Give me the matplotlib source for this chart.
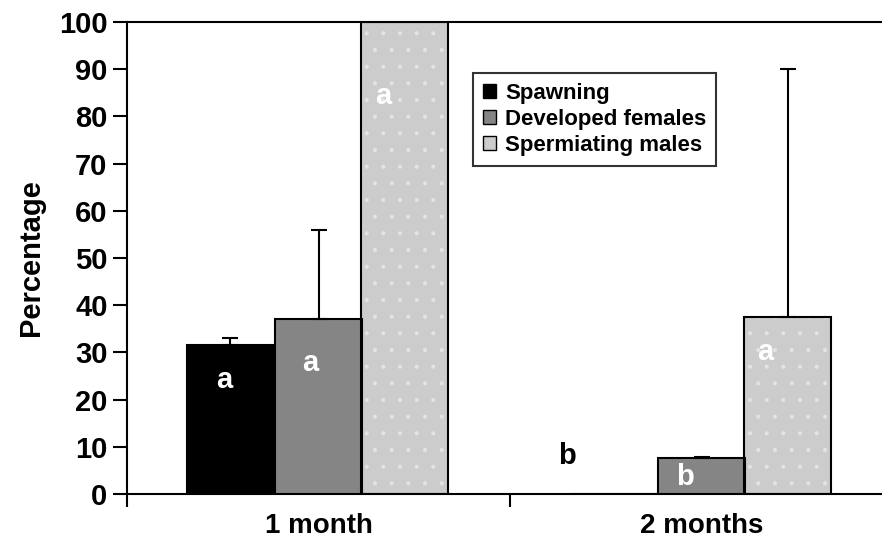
import numpy as np
import matplotlib.pyplot as plt
from matplotlib.patches import Patch

plt.rcParams['font.family'] = ['Liberation Sans', 'DejaVu Sans']
plt.rcParams['font.weight'] = 'bold'
plt.rcParams['hatch.linewidth'] = 0.5

# Data
periods = ["1 month", "2 months"]
series = ["Spawning", "Developed females", "Spermiating males"]
values = {
    "Spawning": [31.6, 0.0],
    "Developed females": [37.0, 7.6],
    "Spermiating males": [100.0, 37.4],
}
errors_up = {
    "Spawning": [1.4, 0.0],
    "Developed females": [19.0, 0.3],
    "Spermiating males": [0.0, 52.6],
}
letters = {
    "Spawning": ["a", "b"],
    "Developed females": ["a", "b"],
    "Spermiating males": ["a", "a"],
}

# Styles / placement
colors = {"Spawning": "#000000", "Developed females": "#858585",
          "Spermiating males": "#cccccc"}
letter_colors = {"Spawning": ["white", "black"],
                 "Developed females": ["white", "white"],
                 "Spermiating males": ["white", "white"]}
# letter y positions and x shifts (data units), per series / period
letter_y = {"Spawning": [24.2, 8.0],
            "Developed females": [27.8, 3.6],
            "Spermiating males": [84.3, 30.1]}
letter_dx = {"Spawning": [-0.017, -0.12],
             "Developed females": [-0.022, -0.044],
             "Spermiating males": [-0.057, -0.059]}
offsets = [-0.23, 0.0, 0.225]
width = 0.227

fig = plt.figure(figsize=(8.82, 5.44), dpi=100)
ax = fig.add_axes([127 / 882, 50 / 544, 766 / 882, 472 / 544])

x = np.arange(len(periods))
for s, off in zip(series, offsets):
    xs = x + off
    vals = np.array(values[s])
    errs = np.array(errors_up[s])
    if s == "Spermiating males":
        ax.bar(xs, vals, width, facecolor=colors[s], edgecolor="#e4e4e4",
               hatch=".", linewidth=0, zorder=2)
        ax.bar(xs, vals, width, fill=False, edgecolor="black",
               linewidth=1.5, zorder=3)
    else:
        ax.bar(xs, vals, width, color=colors[s], edgecolor="black",
               linewidth=1.5, zorder=3)
    m = errs > 0
    if m.any():
        ax.errorbar(xs[m], vals[m], yerr=[np.zeros(m.sum()), errs[m]],
                    fmt="none", ecolor="black", elinewidth=1.5,
                    capsize=5.5, capthick=1.5, zorder=4)
    for i in range(len(periods)):
        ax.text(xs[i] + letter_dx[s][i], letter_y[s][i], letters[s][i],
                ha="center", va="center", fontsize=21, fontweight="bold",
                color=letter_colors[s][i], zorder=5)

ax.set_xlim(-0.5, 1.5)
ax.set_ylim(0, 100)
ax.set_yticks(np.arange(0, 101, 10))
ax.set_xticks([-0.5, 0.5])
ax.set_xticklabels([])
ax.set_xticks(x, minor=True)
ax.set_xticklabels(periods, minor=True)
ax.tick_params(axis="x", which="minor", length=0, pad=14, labelsize=20)
ax.tick_params(axis="x", which="major", direction="out", length=9, width=1.5)
ax.tick_params(axis="y", direction="out", length=10, width=1.5,
               labelsize=21, pad=4)
for lab in ax.get_yticklabels() + ax.get_xticklabels(minor=True):
    lab.set_fontweight("bold")

ax.spines["right"].set_visible(False)
for sp in ["left", "bottom", "top"]:
    ax.spines[sp].set_linewidth(1.5)
ax.set_ylabel("Percentage", fontsize=21, fontweight="bold", labelpad=10)

handles = [Patch(facecolor=colors[s], edgecolor="black", linewidth=1.0)
           for s in series]
leg = fig.legend(handles, series, loc="upper left",
                 bbox_to_anchor=(473 / 882, 1 - 73 / 544),
                 fontsize=16, frameon=True, fancybox=False,
                 edgecolor="black", handlelength=0.6, handleheight=0.6,
                 handletextpad=0.4, labelspacing=0.22, borderpad=0.45,
                 borderaxespad=0)
leg.get_frame().set_linewidth(1.5)
for t in leg.get_texts():
    t.set_fontweight("bold")

fig.savefig("out.png", dpi=100)
